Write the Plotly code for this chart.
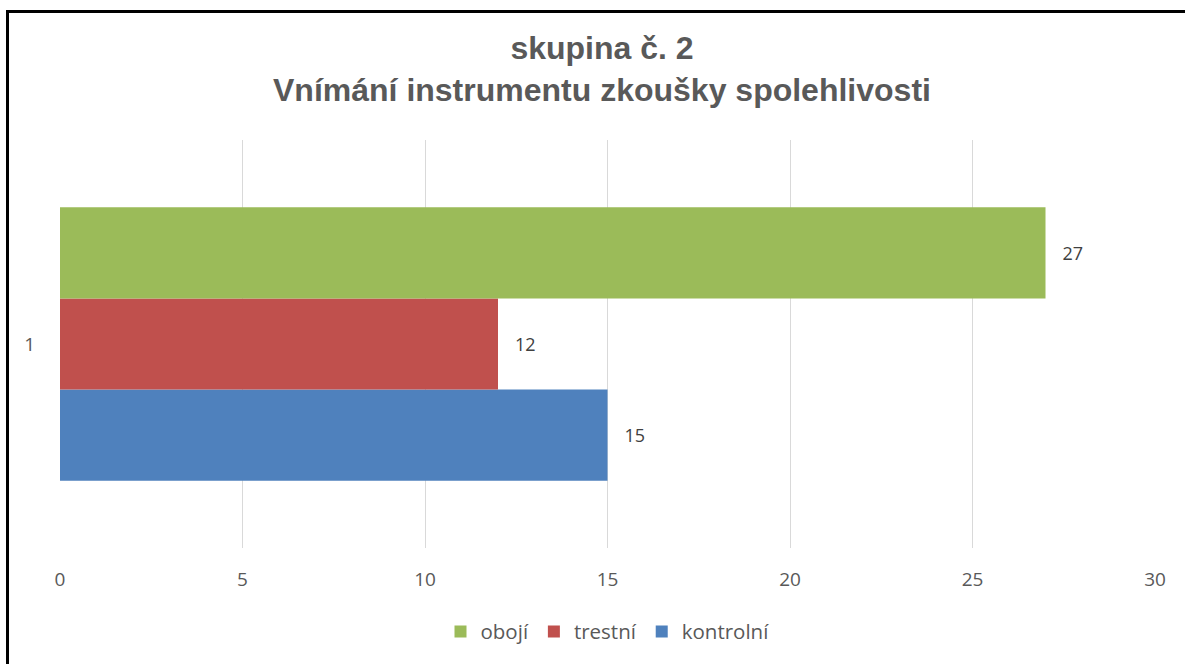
import plotly.graph_objects as go

categories = ["1"]
series_names = ["kontrolní", "trestní", "obojí"]
series_values = [[15], [12], [27]]
series_colors = ["#4F81BD", "#C0504D", "#9BBB59"]
x_ticks = [0, 5, 10, 15, 20, 25, 30]

W, H = 1185, 664
ml, mr, mt, mb = 60, 30, 140, 116
FONT = "Open Sans"

fig = go.Figure()
for name, vals, col in zip(series_names, series_values, series_colors):
    fig.add_trace(go.Bar(
        y=categories, x=vals, name=name, orientation="h",
        marker=dict(color=col, line=dict(width=0)),
        texttemplate="\u00a0\u00a0\u00a0%{x}", textposition="outside",
        textfont=dict(size=18, color="#404040", family=FONT),
        cliponaxis=False,
    ))

pw = W - ml - mr
ph = H - mt - mb
def px_x(p): return (p - ml) / pw
def px_y(p): return (H - mb - p) / ph

fig.add_shape(type="rect", xref="paper", yref="paper",
              x0=px_x(7.5), x1=px_x(1300), y0=px_y(800), y1=px_y(11.5),
              line=dict(color="black", width=3), fillcolor="rgba(0,0,0,0)", layer="above")

fig.update_layout(
    width=W, height=H,
    margin=dict(l=ml, r=mr, t=mt, b=mb),
    paper_bgcolor="white", plot_bgcolor="white",
    barmode="group", bargap=0.33, bargroupgap=0,
    title=dict(text="<b>skupina č. 2<br>Vnímání instrumentu zkoušky spolehlivosti</b>",
               x=0.508, xanchor="center", y=0.911, yanchor="middle",
               font=dict(size=32, color="#595959", family="Liberation Sans")),
    xaxis=dict(range=[0, 30], tickvals=x_ticks, showgrid=True, gridcolor="#D9D9D9",
               gridwidth=1, zeroline=False, showline=False, ticks="",
               tickfont=dict(size=19, color="#595959", family=FONT),
               ticklabelstandoff=18),
    yaxis=dict(type="category", showgrid=False, zeroline=False, showline=False, ticks="",
               tickfont=dict(size=19, color="#595959", family=FONT),
               ticklabelstandoff=24),
    legend=dict(orientation="h", x=0.5, xanchor="center", y=-0.205, yanchor="middle",
                traceorder="reversed", font=dict(size=20.5, color="#595959", family=FONT),
                itemwidth=30),
    showlegend=True,
)

fig.write_html("out.html", config={"displayModeBar": False},
               post_script="document.body.style.margin='0';document.body.style.overflow='hidden';")
